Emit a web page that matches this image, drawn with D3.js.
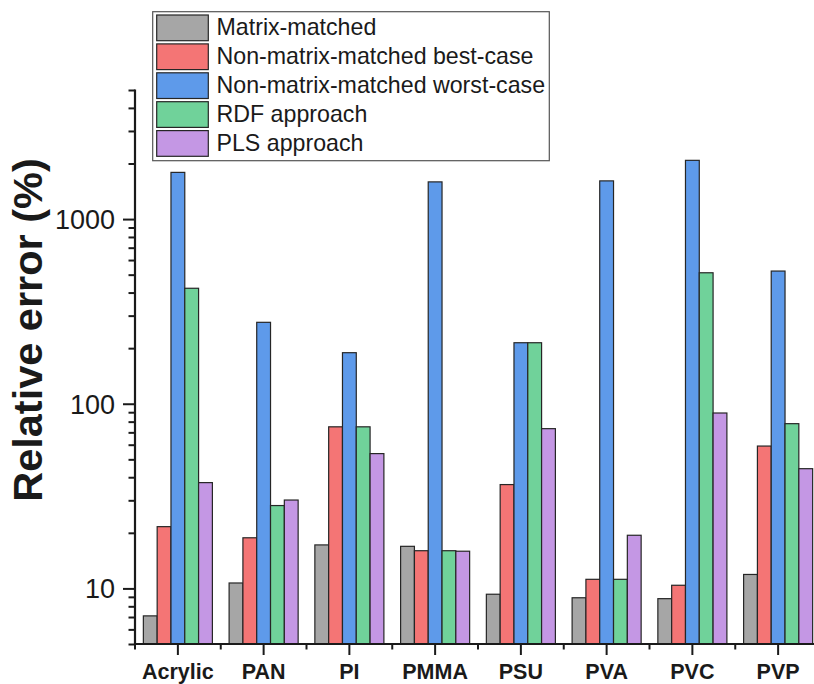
<!DOCTYPE html>
<html>
<head>
<meta charset="utf-8">
<script src="https://cdn.jsdelivr.net/npm/d3@7"></script>
<style>
  html, body { margin: 0; padding: 0; background: #fff; }
  svg { display: block; }
  text { font-family: "Liberation Sans", Arial, Helvetica, sans-serif; }
</style>
</head>
<body>
<svg id="chart" width="814" height="684"></svg>
<script>
const categories = ["Acrylic", "PAN", "PI", "PMMA", "PSU", "PVA", "PVC", "PVP"];
const seriesNames = ["Matrix-matched", "Non-matrix-matched best-case", "Non-matrix-matched worst-case", "RDF approach", "PLS approach"];
const matrixMatched = [7.1, 10.7, 17.2, 16.9, 9.3, 8.9, 8.8, 11.9];
const bestCase      = [21.6, 18.8, 75, 16.0, 36.5, 11.2, 10.4, 59];
const worstCase     = [1790, 276, 189, 1590, 214, 1610, 2080, 523];
const rdfApproach   = [422, 28.1, 75, 16.0, 214, 11.2, 512, 78];
const plsApproach   = [37.4, 30.1, 53.7, 15.9, 73.3, 19.4, 89.1, 44.5];
const seriesColors  = ["#a6a6a6", "#f47575", "#5e9aea", "#70d29a", "#c497e4"];
const yTickLabels   = [10, 100, 1000];
const yTitle = "Relative error (%)";

const seriesValues = [matrixMatched, bestCase, worstCase, rdfApproach, plsApproach];

const svg = d3.select("#chart");
const x0 = 135, x1 = 821, yTop = 90, yBot = 644;

const x = d3.scaleBand().domain(categories).range([x0, x1]).paddingInner(0).paddingOuter(0);
const groupW = x.bandwidth() * 0.805;
const xs = d3.scaleBand().domain(d3.range(seriesNames.length)).range([0, groupW]).padding(0);
const y = d3.scaleLog().domain([5, 5000]).range([yBot, yTop]);

// bars
const gBars = svg.append("g");
categories.forEach((c, ci) => {
  const gx = x(c) + (x.bandwidth() - groupW) / 2;
  seriesValues.forEach((vals, si) => {
    gBars.append("rect")
      .attr("x", gx + xs(si))
      .attr("y", y(vals[ci]))
      .attr("width", xs.bandwidth())
      .attr("height", y(5) - y(vals[ci]))
      .attr("fill", seriesColors[si])
      .attr("stroke", "#262626")
      .attr("stroke-width", 1.2);
  });
});

// y axis
const minorVals = [];
for (let d = 1; d <= 1000; d *= 10) {
  for (let m = 1; m <= 9; m++) {
    const v = m * d;
    if (v >= 5 && v <= 5000 && !yTickLabels.includes(v)) minorVals.push(v);
  }
}
const gy = svg.append("g").attr("transform", `translate(${x0},0)`);
gy.call(d3.axisLeft(y).tickValues(yTickLabels).tickSize(12).tickPadding(8).tickFormat(d3.format("d")));
gy.select(".domain").remove();
gy.selectAll(".tick line").attr("stroke", "#1a1a1a").attr("stroke-width", 2);
gy.selectAll(".tick text").attr("font-size", 27).attr("fill", "#1a1a1a").attr("dy", "0.35em");
const gyMinor = svg.append("g").attr("transform", `translate(${x0},0)`);
gyMinor.call(d3.axisLeft(y).tickValues(minorVals).tickSize(6.5).tickFormat(""));
gyMinor.select(".domain").remove();
gyMinor.selectAll(".tick line").attr("stroke", "#1a1a1a").attr("stroke-width", 2);
svg.append("line").attr("x1", x0).attr("x2", x0).attr("y1", yTop - 0.5).attr("y2", yBot + 1)
  .attr("stroke", "#1a1a1a").attr("stroke-width", 2.2);

// x axis
const gx = svg.append("g").attr("transform", `translate(0,${yBot})`);
gx.call(d3.axisBottom(x).tickSize(11).tickPadding(9));
gx.select(".domain").remove();
gx.selectAll(".tick line").attr("stroke", "#1a1a1a").attr("stroke-width", 2);
gx.selectAll(".tick text").attr("font-size", 21.5).attr("font-weight", "bold").attr("fill", "#1a1a1a");
// minor x ticks at band boundaries
const bounds = categories.map(c => x(c)).concat([x1]);
svg.append("g").selectAll("line").data(bounds).join("line")
  .attr("x1", d => d).attr("x2", d => d).attr("y1", yBot).attr("y2", yBot + 5.5)
  .attr("stroke", "#1a1a1a").attr("stroke-width", 2);
svg.append("line").attr("x1", x0 - 1).attr("x2", x1).attr("y1", yBot).attr("y2", yBot)
  .attr("stroke", "#1a1a1a").attr("stroke-width", 2.2);

// y title
svg.append("text")
  .attr("transform", `translate(42,${(yTop + yBot) / 2 - 37}) rotate(-90)`)
  .attr("text-anchor", "middle")
  .attr("font-size", 41.5)
  .attr("font-weight", "bold")
  .attr("fill", "#1a1a1a")
  .text(yTitle);

// legend
const lg = svg.append("g");
lg.append("rect").attr("x", 152.7).attr("y", 11.7).attr("width", 396.6).attr("height", 149)
  .attr("fill", "#fff").attr("stroke", "#555").attr("stroke-width", 1.2);
seriesNames.forEach((name, i) => {
  const ty = 15 + i * 28.9;
  lg.append("rect").attr("x", 156.7).attr("y", ty).attr("width", 51.6).attr("height", 25.7)
    .attr("fill", seriesColors[i]).attr("stroke", "#262626").attr("stroke-width", 1.2);
  lg.append("text").attr("x", 216.5).attr("y", ty + 20.3).attr("font-size", 23.2)
    .attr("fill", "#1a1a1a").text(name);
});
</script>
</body>
</html>
